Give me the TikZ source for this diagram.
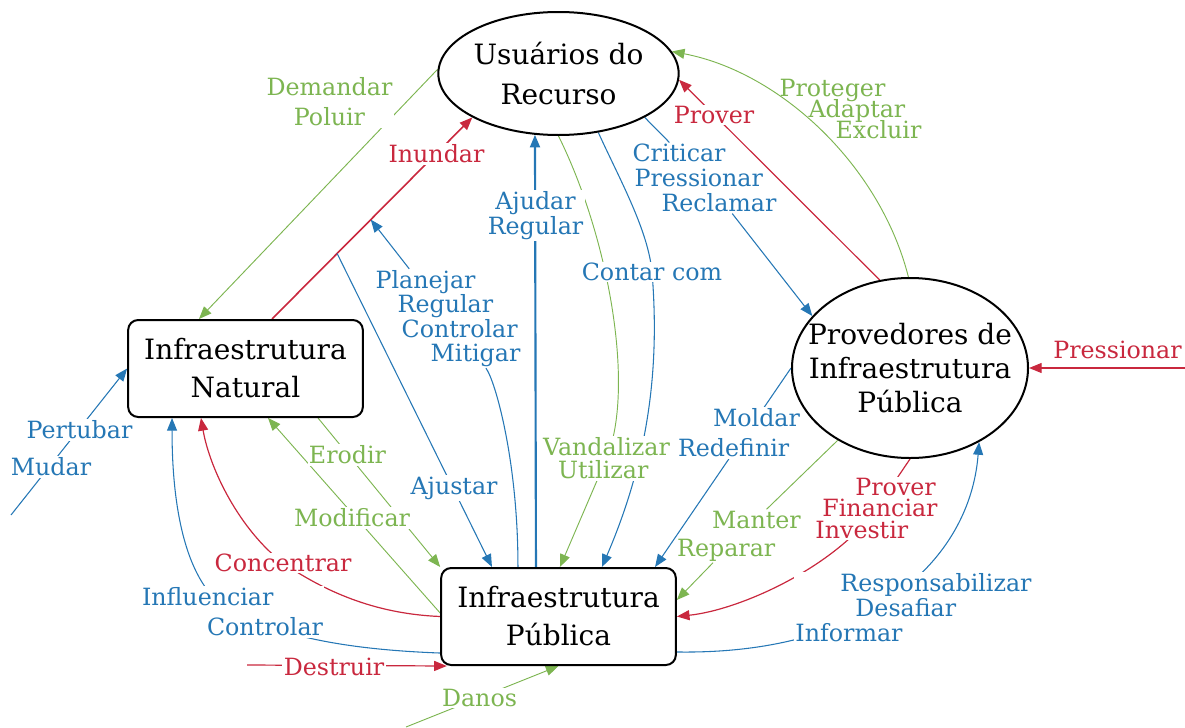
\documentclass[tikz,border=0pt]{standalone}
\usepackage{fontspec}
\setmainfont{DejaVu Serif}
\usetikzlibrary{arrows.meta,shapes.geometric,backgrounds}
\definecolor{EdgeGreen}{HTML}{7DB551}
\definecolor{EdgeRed}  {HTML}{C9283E}
\definecolor{EdgeBlue} {HTML}{2577B5}
\tikzset{
  nbox/.style={rectangle,rounded corners=7.5pt,draw=black,line width=1.5pt,fill=white,
               minimum width=176pt,minimum height=72.75pt,align=center,
               font=\fontsize{21}{28.5}\selectfont},
  ebox/.style={ellipse,draw=black,line width=1.5pt,fill=white,align=center,inner sep=0pt,
               font=\fontsize{21}{30}\selectfont},
  lbl/.style={fill=white,inner sep=1pt,text=#1,align=center,
              font=\fontsize{17.8}{18.75}\selectfont\lineskiplimit-20pt},
  lsp/.style={font=\fontsize{17.8}{#1}\selectfont\lineskiplimit-20pt},
  garr/.style={-{Triangle[length=9.5pt,width=7.5pt]},line width=0.7pt,color=EdgeGreen},
  rarr/.style={-{Triangle[length=9.5pt,width=7.5pt]},line width=0.9pt,color=EdgeRed},
  barr/.style={-{Triangle[length=9.5pt,width=7.5pt]},line width=0.8pt,color=EdgeBlue},
}
\begin{document}
\begin{tikzpicture}[x=0.75pt,y=-0.75pt]
  \useasboundingbox (0,0) rectangle (1185,728);

  % actors
  \node[ebox,minimum width=177.75pt,minimum height=92.25pt] (usr) at (558.5,73.5)
    {Usuários do\\Recurso};
  \node[nbox] (nat) at (245.5,368.5) {Infraestrutura\\Natural};
  \node[nbox] (pub) at (558.5,616.5) {Infraestrutura\\Pública};
  \node[ebox,inner xsep=-14pt,minimum width=177pt,minimum height=135pt,
        font=\fontsize{21}{25.5}\selectfont] (prov) at (910,368)
    {Provedores de\\Infraestrutura\\Pública};

  % labels
  \node[lbl=EdgeGreen,lsp=22.5pt] (lDem) at (329.5,102) {Demandar\\Poluir};
  \node[lbl=EdgeRed] (lInu) at (436.5,154) {Inundar};
  \node[lbl=EdgeBlue,fill=none,align=left,lsp=18.2pt] (lPla) at (448,318.5)
    {Planejar\\\hspace*{16.5pt}Regular\\\hspace*{19.5pt}Controlar\\\hspace*{41.25pt}Mitigar};
  \node[lbl=EdgeBlue] (lAju) at (535.5,215.5) {Ajudar\\Regular};
  \node[lbl=EdgeBlue] (lCon) at (652,272) {Contar com};
  \node[lbl=EdgeBlue,fill=none,align=left] (lCri) at (704.5,178)
    {Criticar\\\hspace*{1.5pt}Pressionar\\\hspace*{21.75pt}Reclamar};
  \node[lbl=EdgeRed] (lPro) at (714,115) {Prover};
  \node[lbl=EdgeGreen,fill=none,align=left,lsp=15.75pt] (lPrt) at (850.5,109)
    {Proteger\\\hspace*{21.75pt}Adaptar\\\hspace*{42pt}Excluir};
  \node[lbl=EdgeRed] (lPre) at (1117.5,350) {Pressionar};
  \node[lbl=EdgeBlue,align=left,lsp=22.5pt] (lMol) at (739,433)
    {\hspace*{26.25pt}Moldar\\Redefinir};
  \node[lbl=EdgeGreen,fill=none,align=left,lsp=21pt] (lMan) at (739,536)
    {\hspace*{26.25pt}Manter\\Reparar};
  \node[lbl=EdgeRed,align=left,lsp=16.1pt] (lFin) at (876.5,508.5)
    {\hspace*{30pt}Prover\\\hspace*{5.25pt}Financiar\\Investir};
  \node[lbl=EdgeBlue,align=left] (lRes) at (913.5,608)
    {\hspace*{33.75pt}Responsabilizar\\\hspace*{45pt}Desafiar\\Informar};
  \node[lbl=EdgeGreen,align=left,lsp=17.25pt] (lVan) at (606.5,458.5)
    {Vandalizar\\\hspace*{11.25pt}Utilizar};
  \node[lbl=EdgeBlue] (lPer) at (79.5,430) {Pertubar};
  \node[lbl=EdgeBlue] (lMud) at (51,467) {Mudar};
  \node[lbl=EdgeBlue,align=left,lsp=22.5pt] (lInf) at (232.5,612)
    {Influenciar\\\hspace*{48.75pt}Controlar};
  \node[lbl=EdgeRed] (lCnc) at (283,563) {Concentrar};
  \node[lbl=EdgeGreen] (lEro) at (347.5,455) {Erodir};
  \node[lbl=EdgeGreen] (lMod) at (352,518) {Modificar};
  \node[lbl=EdgeBlue] (lAjs) at (454,488) {Ajustar};
  \node[lbl=EdgeRed] (lDes) at (334,667) {Destruir};
  \node[lbl=EdgeGreen] (lDan) at (479.5,698) {Danos};

  % free ends
  \coordinate (pressS) at (1185,368);
  \coordinate (pertS) at (11,515);
  \coordinate (desS) at (247,665);
  \coordinate (danS) at (406,727);

  % connectors
  \begin{scope}[on background layer]
    \draw[garr] (usr.178) -- ([xshift=-34.9pt]nat.north);
    \draw[rarr,line width=1.2pt] ([xshift=19.9pt]nat.north)
      -- coordinate[pos=0.325] (ajS) coordinate[pos=0.493] (plE) (usr.207.5);
    \draw[barr] (ajS) -- ([xshift=-49.9pt]pub.north);
    \draw[barr] ([xshift=-30.4pt]pub.north) .. controls (518,460) and (495,380) .. (lPla) -- (plE);
    \draw[barr,line width=1.6pt] ([xshift=-16.9pt]pub.north) -- (usr.249.9);
    \draw[garr] (usr.270) .. controls (610,240) and (635,390) .. (lVan.center) -- ([xshift=1.1pt]pub.north);
    \draw[barr] (usr.304.9) .. controls (620,180) and (648,230) .. (lCon.center)
      .. controls (660,370) and (648,460) .. ([xshift=32.6pt]pub.north);
    \draw[barr] (usr.333.6) -- (lCri) -- (prov.152.5);
    \draw[rarr] (prov.109.4) -- (usr.357.8);
    \draw[garr] (prov.91.3) .. controls (880,165) and (780,72) .. (usr.11.6);
    \draw[rarr] (pressS) -- (prov.east);
    \draw[barr] (prov.west) -- ([xshift=72.4pt]pub.north);
    \draw[garr] (prov.225.4) -- (lMan) -- ([yshift=12.4pt]pub.east);
    \draw[rarr] (prov.south) -- (lFin.center) .. controls (835,567) and (740,610) .. (pub.east);
    \draw[barr] ([yshift=-26.6pt]pub.east) .. controls (870,655) and (970,560) .. (prov.313);
    \draw[barr] (pertS) -- (nat.west);
    \draw[barr] ([yshift=-27.4pt]pub.west) .. controls (360,650) and (290,640) .. (lInf.center)
      .. controls (190,590) and (172,520) .. ([xshift=-55.1pt]nat.south);
    \draw[rarr] (pub.west) .. controls (380,614) and (330,595) .. (lCnc.center)
      .. controls (240,530) and (210,470) .. ([xshift=-33.4pt]nat.south);
    \draw[garr] ([xshift=54.4pt]nat.south) -- (pub.north west);
    \draw[garr] ([yshift=2.6pt]pub.west) -- ([xshift=16.9pt]nat.south);
    \draw[rarr] (desS) -- ([xshift=5pt]pub.south west);
    \draw[garr] (danS) -- (pub.south);
  \end{scope}

\end{tikzpicture}
\end{document}
